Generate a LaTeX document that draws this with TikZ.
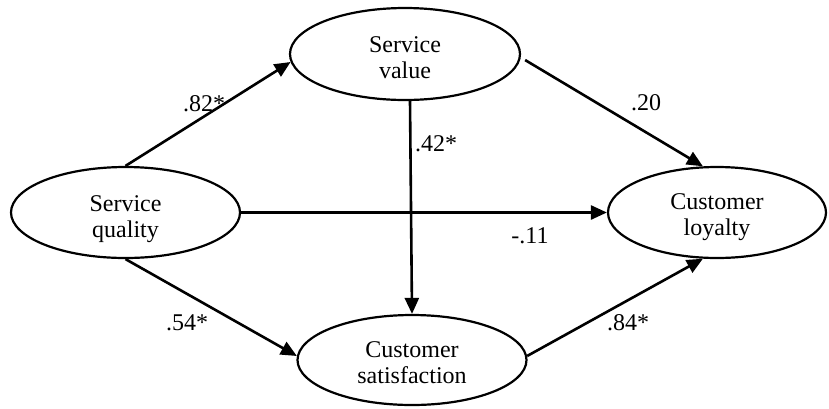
\documentclass[tikz,border=0pt]{standalone}
\usepackage{fontspec}
\setmainfont{Liberation Serif}
\usetikzlibrary{shapes.geometric,arrows.meta}
\tikzset{
  ell/.style={ellipse, draw, line width=2.2pt, inner sep=0pt},
  txt/.style={align=center, inner sep=0pt, font=\fontsize{24}{26}\selectfont},
  coef/.style={inner sep=0pt, font=\fontsize{24}{26}\selectfont},
  arr/.style={line width=2.6pt, -{Triangle[length=16pt,width=14pt]}}
}
\begin{document}
\begin{tikzpicture}[x=1pt,y=-1pt]
\useasboundingbox (0,0) rectangle (829,408);
\node[ell, minimum width=229pt, minimum height=91pt,
  label={[txt,yshift=-6.4pt]center:{Service\\quality}}] (sq) at (125.5,212.5) {};
\node[ell, minimum width=230pt, minimum height=92pt,
  label={[txt,yshift=-3.8pt]center:{Service\\value}}] (sv) at (405,54) {};
\node[ell, minimum width=218pt, minimum height=91pt,
  label={[txt,yshift=-4.9pt]center:{Customer\\loyalty}}] (cl) at (717,212.5) {};
\node[ell, minimum width=229pt, minimum height=90pt,
  label={[txt,yshift=-2.8pt]center:{Customer\\satisfaction}}] (cs) at (412,360) {};

\draw[arr] (sq.north) -- (sv.184);
\draw[arr] ([xshift=5pt]sv.-3) -- (cl.107);
\draw[arr] ([xshift=5pt]sv.south) -- (cs.north);
\draw[arr] (sq.east) -- (cl.west);
\draw[arr] (sq.south) -- (cs.178);
\draw[arr] (cs.2) -- (cl.253);

\node[coef] (c1) at (204,104) {.82*};
\node[coef] (c2) at (646,103) {.20};
\node[coef] (c3) at (436,144) {.42*};
\node[coef] (c4) at (530,236) {-.11};
\node[coef] (c5) at (187,323) {.54*};
\node[coef] (c6) at (628,323) {.84*};
\end{tikzpicture}
\end{document}
